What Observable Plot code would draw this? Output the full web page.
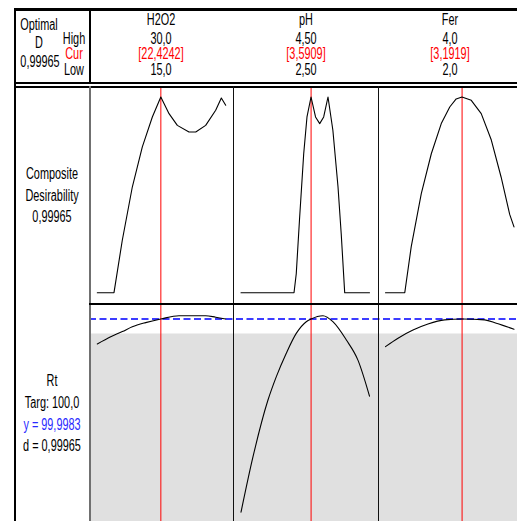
<!DOCTYPE html>
<html><head><meta charset="utf-8">
<script src="https://cdn.jsdelivr.net/npm/d3@7"></script>
<script src="https://cdn.jsdelivr.net/npm/@observablehq/plot@0.6"></script>
<style>
html,body{margin:0;padding:0;background:#fff;}
#chart{position:relative;width:517px;height:521px;overflow:hidden;background:#fff;font-family:"Liberation Sans",Arial,sans-serif;}
.t{position:absolute;white-space:nowrap;font-size:16px;line-height:12px;height:12px;transform:translate(-50%,-50%) scaleX(0.68);color:#000;}
.blk{position:absolute;white-space:nowrap;font-size:16px;line-height:15.5px;text-align:center;transform:translateX(-50%) scaleX(0.68);color:#000;}
.ln{position:absolute;background:#000;}
.pl{position:absolute;}
</style></head><body><div id="chart"></div>
<script>
// ---------- data ----------
const factors = ["H2O2", "pH", "Fer"];
const highLabels = ["30,0", "4,50", "4,0"];
const curLabels = ["[22,4242]", "[3,5909]", "[3,1919]"];
const lowLabels = ["15,0", "2,50", "2,0"];
const lowVals = [15, 2.5, 2];
const highVals = [30, 4.5, 4];
const curVals = [22.4242, 3.5909, 3.1919];

const optimalD = "0,99965";
const responseName = "Rt";
const targetLabel = "Targ: 100,0";
const yLabel = "y = 99,9983";
const dLabel = "d = 0,99965";
const rtY = 99.9983;
const rtLower = 95;
const rtDomain = [30, 105];

// composite desirability curves
const h2o2Grid = [15.0, 16.95, 17.92, 19.09, 20.26, 21.43, 22.42, 23.38, 24.35, 25.71, 26.5, 27.66, 28.83, 29.49, 30.0];
const h2o2D    = [0, 0, 0.268, 0.54, 0.745, 0.898, 1.0, 0.915, 0.855, 0.821, 0.821, 0.855, 0.932, 0.995, 0.958];
const phGrid   = [2.5, 3.325, 3.36, 3.41, 3.476, 3.527, 3.59, 3.66, 3.725, 3.787, 3.854, 3.93, 4.01, 4.06, 4.114, 4.5];
const phD      = [0, 0, 0.097, 0.37, 0.71, 0.898, 1.0, 0.898, 0.864, 0.898, 1.0, 0.83, 0.54, 0.30, 0, 0];
const ferGrid  = [2.0, 2.30, 2.40, 2.557, 2.713, 2.868, 3.0, 3.10, 3.19, 3.335, 3.49, 3.647, 3.80, 3.933, 4.0];
const ferD     = [0, 0, 0.234, 0.506, 0.71, 0.864, 0.949, 0.99, 1.0, 0.983, 0.915, 0.78, 0.59, 0.40, 0.336];

// response Rt curves
const h2o2RtGrid = [15.0, 16.57, 17.92, 19.09, 20.65, 22.42, 24.54, 27.66, 28.83, 30.0];
const h2o2Rt     = [91.7, 94.1, 95.8, 97.4, 98.8, 100.0, 101.1, 101.1, 100.6, 100.0];
const phRtGrid   = [2.5, 2.687, 2.92, 3.05, 3.205, 3.36, 3.516, 3.59, 3.776, 3.93, 4.14, 4.32, 4.5];
const phRt       = [35.6, 54.1, 73.0, 80.8, 88.6, 95.2, 99.1, 100.0, 101.1, 99.1, 93.0, 86.3, 74.3];
const ferRtGrid  = [2.0, 2.195, 2.428, 2.661, 2.92, 3.2, 3.544, 3.724, 4.0];
const ferRt      = [90.8, 93.6, 96.3, 98.3, 99.7, 100.0, 99.7, 98.6, 96.6];

const dGrids = [h2o2Grid, phGrid, ferGrid];
const dVals = [h2o2D, phD, ferD];
const rtGrids = [h2o2RtGrid, phRtGrid, ferRtGrid];
const rtVals = [h2o2Rt, phRt, ferRt];

// ---------- layout ----------
const chart = document.getElementById("chart");
const colLeft = [89, 233, 378];
const colWidth = [144, 145, 144];
const xRanges = [[7.8, 136.2], [7.5, 136], [7, 135.5]];
const colCenter = [161, 305.5, 450];
const topRowY = 87, botRowY = 304, rowH = 217;

function text(s, cx, cy, color) {
  const d = document.createElement("div");
  d.className = "t";
  d.textContent = s;
  d.style.left = cx + "px";
  d.style.top = cy + "px";
  if (color) d.style.color = color;
  chart.appendChild(d);
}
// three stacked lines (high / current / low) as one text block
function block(lines, cx, top) {
  const d = document.createElement("div");
  d.className = "blk";
  d.style.left = cx + "px";
  d.style.top = top + "px";
  lines.forEach(([s, color], k) => {
    if (k) d.appendChild(document.createElement("br"));
    const sp = document.createElement("span");
    sp.textContent = s;
    if (color) sp.style.color = color;
    d.appendChild(sp);
  });
  chart.appendChild(d);
}
function line(l, t, w, h, c) {
  const d = document.createElement("div");
  d.className = "ln";
  Object.assign(d.style, {left: l + "px", top: t + "px", width: w + "px", height: h + "px"});
  if (c) d.style.background = c;
  chart.appendChild(d);
}
function place(svg, l, t) {
  svg.classList.add("pl");
  svg.style.left = l + "px";
  svg.style.top = t + "px";
  chart.appendChild(svg);
}
const noBg = {background: "none"};

// background of response row: shaded region below lower bound + current y
place(Plot.plot({
  width: 433, height: rowH, margin: 0,
  y: {domain: rtDomain, range: [224.5, -0.5], axis: null},
  style: noBg,
  marks: [
    Plot.rect([{lo: rtLower, hi: rtDomain[0]}], {y1: "lo", y2: "hi", fill: "#e0e0e0"}),
    Plot.ruleY([rtY], {stroke: "#3c3cff", strokeWidth: 2, strokeDasharray: "7,3.5"})
  ]
}), 89, botRowY);

for (let i = 0; i < 3; i++) {
  const dData = dGrids[i].map((x, j) => ({x, y: dVals[i][j]}));
  const rData = rtGrids[i].map((x, j) => ({x, y: rtVals[i][j]}));
  place(Plot.plot({
    width: colWidth[i], height: rowH, margin: 0,
    x: {domain: [lowVals[i], highVals[i]], range: xRanges[i], axis: null},
    y: {domain: [0, 1], range: [205.2, 9.5], axis: null},
    style: noBg,
    marks: [
      Plot.ruleX([curVals[i]], {stroke: "#ff0000", strokeWidth: 1}),
      Plot.line(dData, {x: "x", y: "y", stroke: "#000", strokeWidth: 1.1})
    ]
  }), colLeft[i], topRowY);
  place(Plot.plot({
    width: colWidth[i], height: rowH, margin: 0,
    x: {domain: [lowVals[i], highVals[i]], range: xRanges[i], axis: null},
    y: {domain: rtDomain, range: [224.5, -0.5], axis: null},
    style: noBg,
    marks: [
      Plot.ruleX([curVals[i]], {stroke: "#ff0000", strokeWidth: 1}),
      Plot.line(rData, {x: "x", y: "y", stroke: "#000", strokeWidth: 1.1, curve: "monotone-x"})
    ]
  }), colLeft[i], botRowY);
}

// frame lines
line(14, 8, 510, 2.5);
line(14, 8, 2, 520);
line(14, 82, 510, 2);
line(88.5, 8, 2.2, 75);
line(14, 86, 510, 1.5);
line(88.5, 86, 2.4, 440, "#707070");
line(232.5, 86, 1.5, 440, "#111");
line(377.5, 86, 1.5, 440, "#111");
line(89, 303.2, 440, 1.8);

// header texts
text("Optimal", 39, 25);
text("D", 39, 42.5);
text(optimalD, 40, 62);
block([["High"], ["Cur", "#ff0000"], ["Low"]], 74, 30.5);
for (let i = 0; i < 3; i++) {
  text(factors[i], colCenter[i], 19.7);
  block([[highLabels[i]], [curLabels[i], "#ff0000"], [lowLabels[i]]], colCenter[i], 30.5);
}
// row labels
text("Composite", 51.5, 174);
text("Desirability", 51.5, 196);
text(optimalD, 51.5, 217);
text(responseName, 51.5, 381);
text(targetLabel, 51.5, 403);
text(yLabel, 51.5, 425, "#2a2aff");
text(dLabel, 51.5, 446);
</script>
</body></html>
